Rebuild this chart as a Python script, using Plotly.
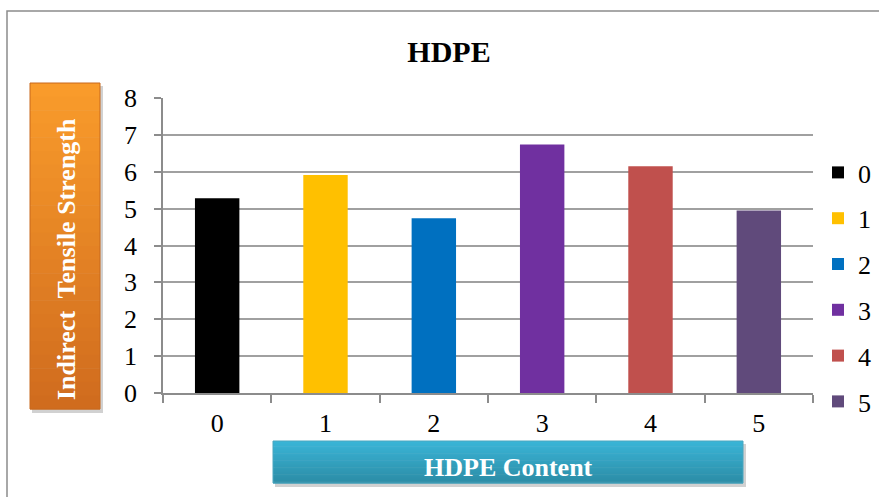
import plotly.graph_objects as go

# HDPE content levels and measured indirect tensile strength
categories = ["0", "1", "2", "3", "4", "5"]
strength = [5.28, 5.91, 4.74, 6.74, 6.15, 4.95]
bar_colors = ["#000000", "#FFC000", "#0070C0", "#7030A0", "#C0504D", "#604A7B"]
y_ticks = [0, 1, 2, 3, 4, 5, 6, 7, 8]

W, H = 879, 497
L, R, T, B = 163, 813, 98, 393  # plot area in pixels
FONT = "Liberation Serif"

def px_x(p):
    return (p - L) / (R - L)

def px_y(p):
    return (B - p) / (B - T)

def hexmix(c1, c2, t):
    a = [int(c1[i:i + 2], 16) for i in (1, 3, 5)]
    b = [int(c2[i:i + 2], 16) for i in (1, 3, 5)]
    return "#%02X%02X%02X" % tuple(round(a[k] + (b[k] - a[k]) * t) for k in range(3))

def gradient_box(x0, y0, x1, y1, top, bottom, edge, steps=24):
    shapes = []
    # soft drop shadow
    shapes.append(dict(type="rect", xref="paper", yref="paper",
                       x0=px_x(x0 + 2), x1=px_x(x1 + 3), y0=px_y(y0 + 3), y1=px_y(y1 + 4),
                       fillcolor="rgba(0,0,0,0.18)", line=dict(width=0), layer="below"))
    h = (y1 - y0) / steps
    for i in range(steps):
        shapes.append(dict(type="rect", xref="paper", yref="paper",
                           x0=px_x(x0), x1=px_x(x1),
                           y0=px_y(y0 + i * h), y1=px_y(y0 + (i + 1) * h + 0.5),
                           fillcolor=hexmix(top, bottom, i / (steps - 1)),
                           line=dict(width=0), layer="below"))
    shapes.append(dict(type="rect", xref="paper", yref="paper",
                       x0=px_x(x0), x1=px_x(x1), y0=px_y(y0), y1=px_y(y1),
                       fillcolor="rgba(0,0,0,0)", line=dict(color=edge, width=1), layer="below"))
    return shapes

fig = go.Figure()
for cat, val, col in zip(categories, strength, bar_colors):
    fig.add_trace(go.Bar(x=[cat], y=[val], name=cat, marker=dict(color=col, line=dict(width=0)),
                         width=0.41, legendgroup=cat))

shapes = []
# outer chart frame
shapes.append(dict(type="rect", xref="paper", yref="paper",
                   x0=px_x(7), x1=px_x(890), y0=px_y(11), y1=px_y(510),
                   fillcolor="rgba(0,0,0,0)", line=dict(color="#8C8C8C", width=1.5)))
# axis title boxes
shapes += gradient_box(30, 83, 100, 409, "#F99B2B", "#D06C1E", "#C8681C")
shapes += gradient_box(273, 441, 743, 483, "#3AB4D6", "#2C8DA7", "#4AA6BF")

annotations = [
    dict(text="<b>Indirect  Tensile Strength</b>", xref="paper", yref="paper",
         x=px_x(66), y=px_y(259), textangle=-90, showarrow=False,
         font=dict(family=FONT, size=26, color="white"),
         xanchor="center", yanchor="middle"),
    dict(text="<b>HDPE Content</b>", xref="paper", yref="paper",
         x=px_x(508), y=px_y(467), showarrow=False,
         font=dict(family=FONT, size=26, color="white"),
         xanchor="center", yanchor="middle"),
]

fig.update_layout(
    width=W, height=H,
    margin=dict(l=L, r=W - R, t=T, b=H - B, pad=0, autoexpand=False),
    paper_bgcolor="white", plot_bgcolor="white",
    barmode="overlay",
    font=dict(family=FONT, size=26, color="black"),
    title=dict(text="<b>HDPE</b>", x=449 / W, xref="container", xanchor="center",
               y=1 - 51 / H, yref="container", yanchor="middle",
               font=dict(family=FONT, size=30, color="black")),
    xaxis=dict(type="category", showline=True, linecolor="#8C8C8C", linewidth=1.5,
               ticks="outside", tickson="boundaries", ticklen=8, tickcolor="#8C8C8C",
               tickwidth=1.5, showgrid=False, ticklabelstandoff=6,
               tickfont=dict(family=FONT, size=26, color="black")),
    yaxis=dict(range=[0, 8], tickvals=y_ticks, showline=True, linecolor="#8C8C8C",
               linewidth=1.5, ticks="outside", ticklen=7, tickcolor="#8C8C8C", tickwidth=1.5,
               showgrid=True, gridcolor="#A0A0A0", gridwidth=2, zeroline=False,
               ticklabelstandoff=12,
               tickfont=dict(family=FONT, size=26, color="black")),
    legend=dict(x=px_x(818), y=px_y(149), xanchor="left", yanchor="top",
                tracegroupgap=9, bgcolor="rgba(0,0,0,0)",
                font=dict(family=FONT, size=26, color="black"),
                itemclick=False),
    shapes=shapes,
    annotations=annotations,
)

fig.write_html("out.html")
